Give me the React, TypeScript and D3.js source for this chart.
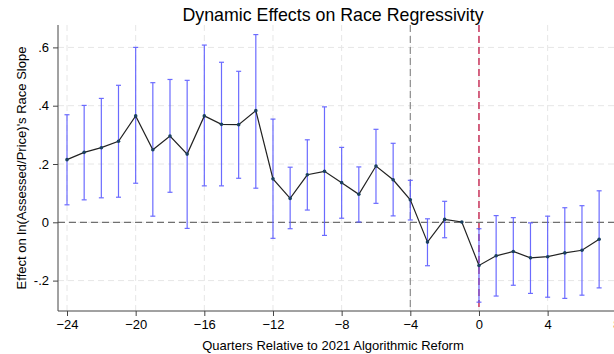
import React, { useRef, useEffect } from 'react';
import * as d3 from 'd3';

// quarters relative to the reform, point estimates and 95% CI bounds
const quarters = [-24, -23, -22, -21, -20, -19, -18, -17, -16, -15, -14, -13, -12, -11, -10, -9, -8, -7, -6, -5, -4, -3, -2, -1, 0, 1, 2, 3, 4, 5, 6, 7];
const estimates = [0.215, 0.240, 0.256, 0.278, 0.365, 0.249, 0.296, 0.234, 0.365, 0.336, 0.335, 0.383, 0.149, 0.082, 0.163, 0.175, 0.136, 0.096, 0.193, 0.146, 0.077, -0.068, 0.010, 0.001, -0.148, -0.115, -0.100, -0.122, -0.118, -0.105, -0.096, -0.058];
const upper = [0.369, 0.401, 0.425, 0.470, 0.600, 0.479, 0.490, 0.487, 0.608, 0.549, 0.518, 0.644, 0.354, 0.189, 0.283, 0.396, 0.257, 0.190, 0.319, 0.271, 0.144, 0.012, 0.072, null, -0.022, 0.023, 0.016, -0.002, 0.021, 0.050, 0.057, 0.108];
const lower = [0.060, 0.077, 0.084, 0.086, 0.134, 0.021, 0.103, -0.021, 0.125, 0.125, 0.151, 0.117, -0.055, -0.022, 0.042, -0.045, 0.014, 0.001, 0.065, 0.022, 0.008, -0.149, -0.053, null, -0.274, -0.253, -0.216, -0.244, -0.257, -0.261, -0.250, -0.225];

const xTicks = [-24, -20, -16, -12, -8, -4, 0, 4, 8];
const yTicks = [0.6, 0.4, 0.2, 0, -0.2];
const yTickLabels = ['.6', '.4', '.2', '0', '-.2'];

const App = () => {
  const svgRef = useRef(null);

  useEffect(() => {
    const width = 614;
    const height = 354;
    const svg = d3.select(svgRef.current);
    svg.selectAll('*').remove();
    svg.attr('width', width).attr('height', height);

    const left = 58;
    const bottom = 311;
    const top = 25;

    const x = d3.scaleLinear().domain([-24, 8]).range([67, 616.3]);
    const y = d3.scaleLinear().domain([-0.2, 0.6]).range([280.6, 47.4]);

    const font = 'Liberation Sans, Arial, Helvetica, sans-serif';

    // grid
    const g = svg.append('g');
    g.selectAll('.gy')
      .data(yTicks)
      .enter()
      .append('line')
      .attr('x1', left).attr('x2', width)
      .attr('y1', d => y(d)).attr('y2', d => y(d))
      .attr('stroke', '#e6e6e6').attr('stroke-width', 1).attr('stroke-dasharray', '6,4');
    g.selectAll('.gx')
      .data(xTicks)
      .enter()
      .append('line')
      .attr('x1', d => x(d)).attr('x2', d => x(d))
      .attr('y1', top).attr('y2', bottom)
      .attr('stroke', '#e6e6e6').attr('stroke-width', 1).attr('stroke-dasharray', '6,4');

    // reference lines
    g.append('line')
      .attr('x1', left).attr('x2', width)
      .attr('y1', y(0)).attr('y2', y(0))
      .attr('stroke', '#707070').attr('stroke-width', 1.2).attr('stroke-dasharray', '7,4');
    g.append('line')
      .attr('x1', x(-4)).attr('x2', x(-4))
      .attr('y1', top).attr('y2', bottom)
      .attr('stroke', '#8c8c8c').attr('stroke-width', 1.2).attr('stroke-dasharray', '7,4');
    g.append('line')
      .attr('x1', x(0)).attr('x2', x(0))
      .attr('y1', top).attr('y2', bottom)
      .attr('stroke', '#c8325a').attr('stroke-width', 1.5).attr('stroke-dasharray', '7,4');

    // error bars
    const ci = quarters.map((q, i) => ({ q, lo: lower[i], hi: upper[i] })).filter(d => d.hi !== null);
    const eb = svg.append('g').attr('stroke', '#5c5cff').attr('stroke-width', 1.2).attr('opacity', 0.9);
    eb.selectAll('.v')
      .data(ci)
      .enter()
      .append('line')
      .attr('x1', d => x(d.q)).attr('x2', d => x(d.q))
      .attr('y1', d => y(d.hi)).attr('y2', d => y(d.lo));
    eb.selectAll('.ct')
      .data(ci)
      .enter()
      .append('line')
      .attr('x1', d => x(d.q) - 2.5).attr('x2', d => x(d.q) + 2.5)
      .attr('y1', d => y(d.hi)).attr('y2', d => y(d.hi));
    eb.selectAll('.cb')
      .data(ci)
      .enter()
      .append('line')
      .attr('x1', d => x(d.q) - 2.5).attr('x2', d => x(d.q) + 2.5)
      .attr('y1', d => y(d.lo)).attr('y2', d => y(d.lo));

    // point estimates
    const pts = quarters.map((q, i) => ({ q, v: estimates[i] }));
    const line = d3.line().x(d => x(d.q)).y(d => y(d.v));
    svg.append('path')
      .datum(pts)
      .attr('d', line)
      .attr('fill', 'none')
      .attr('stroke', '#222')
      .attr('stroke-width', 1.2);
    svg.selectAll('.pt')
      .data(pts)
      .enter()
      .append('circle')
      .attr('cx', d => x(d.q)).attr('cy', d => y(d.v))
      .attr('r', 1.8)
      .attr('fill', '#1a4060');

    // axes
    const yAxis = svg.append('g').attr('transform', `translate(${left},0)`)
      .call(d3.axisLeft(y).tickValues(yTicks).tickFormat((d, i) => yTickLabels[i]).tickSize(5).tickPadding(4));
    yAxis.select('.domain').attr('d', `M0,${top}V${bottom}`).attr('stroke', '#444');
    yAxis.selectAll('.tick line').attr('stroke', '#444');
    yAxis.selectAll('text').attr('font-family', font).attr('font-size', 13).attr('fill', '#000');

    const xAxis = svg.append('g').attr('transform', `translate(0,${bottom})`)
      .call(d3.axisBottom(x).tickValues(xTicks).tickFormat(d3.format('d')).tickSize(5).tickPadding(4));
    xAxis.select('.domain').attr('d', `M${left},0H${width}`).attr('stroke', '#444');
    xAxis.selectAll('.tick line').attr('stroke', '#444');
    xAxis.selectAll('text').attr('font-family', font).attr('font-size', 13).attr('fill', '#000');

    // titles
    svg.append('text')
      .attr('x', 333).attr('y', 21)
      .attr('text-anchor', 'middle')
      .attr('font-family', font).attr('font-size', 17.8)
      .text('Dynamic Effects on Race Regressivity');
    svg.append('text')
      .attr('x', 333).attr('y', 350)
      .attr('text-anchor', 'middle')
      .attr('font-family', font).attr('font-size', 13)
      .text('Quarters Relative to 2021 Algorithmic Reform');
    svg.append('text')
      .attr('transform', `translate(26,168) rotate(-90)`)
      .attr('text-anchor', 'middle')
      .attr('font-family', font).attr('font-size', 13)
      .text("Effect on ln(Assessed/Price)'s Race Slope");
  }, []);

  return (
    <svg ref={svgRef} style={{ position: 'absolute', left: 0, top: 0, overflow: 'hidden' }}></svg>
  );
};

export default App;
